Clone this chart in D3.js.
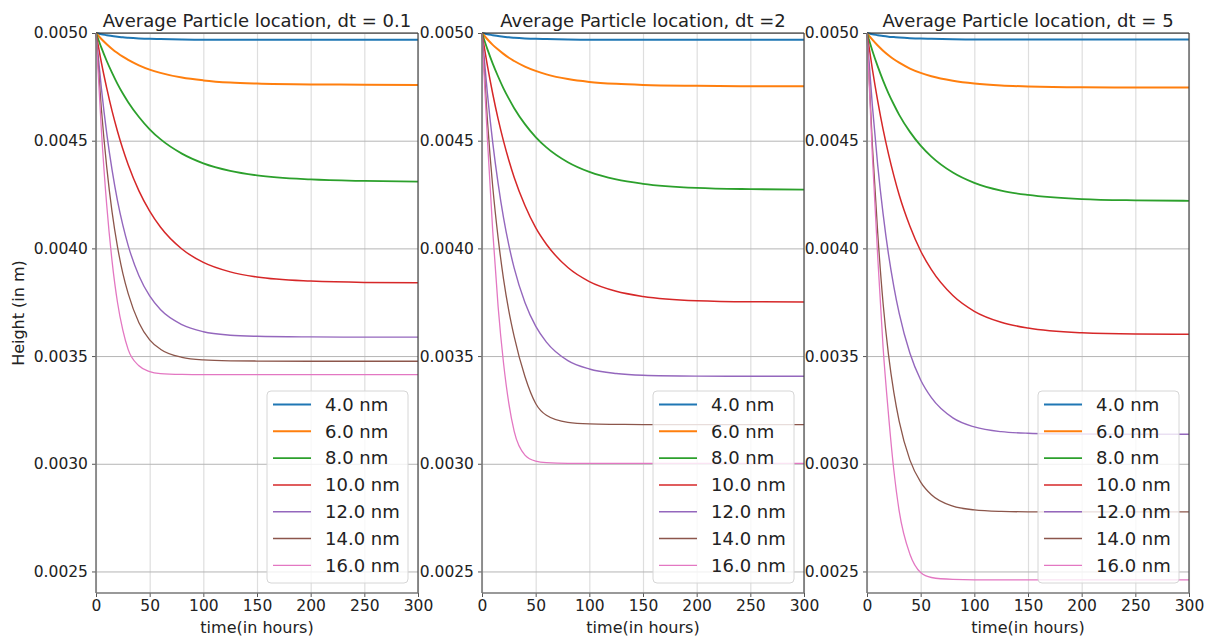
<!DOCTYPE html>
<html lang="en">
<head>
  <meta charset="UTF-8">
  <title>Average Particle location</title>
  <script src="https://d3js.org/d3.v7.min.js"></script>
  <style>
    body {
      margin: 0;
      background: #fff;
      font-family: "DejaVu Sans", sans-serif;
    }
    svg text {
      fill: #222;
    }
  </style>
</head>
<body>
<svg id="chart" width="1217" height="637"></svg>
<script>
  // sample times (hours) shared by every curve
  const times = [0, 5, 10, 15, 20, 25, 30, 40, 50, 60, 80, 100, 125, 150, 200, 250, 300];

  const sizes = ['4.0 nm', '6.0 nm', '8.0 nm', '10.0 nm', '12.0 nm', '14.0 nm', '16.0 nm'];
  const titles = ['Average Particle location, dt = 0.1', 'Average Particle location, dt =2', 'Average Particle location, dt = 5'];
  const xTicks = [0, 50, 100, 150, 200, 250, 300];
  const yTicks = [0.0025, 0.0030, 0.0035, 0.0040, 0.0045, 0.0050];

  // average height (m), one row per particle size
  const dt01 = [
    [0.005, 0.004994, 0.00499, 0.004986, 0.004983, 0.00498, 0.004978, 0.004975, 0.004973, 0.004972, 0.00497, 0.004969, 0.004969, 0.004969, 0.004969, 0.004969, 0.004969],
    [0.005, 0.004972, 0.004948, 0.004926, 0.004907, 0.00489, 0.004875, 0.00485, 0.00483, 0.004815, 0.004793, 0.00478, 0.00477, 0.004765, 0.004761, 0.00476, 0.004759],
    [0.005, 0.004932, 0.00487, 0.004815, 0.004764, 0.004719, 0.004679, 0.00461, 0.004553, 0.004507, 0.00444, 0.004395, 0.00436, 0.004339, 0.00432, 0.004313, 0.00431],
    [0.005, 0.004863, 0.004744, 0.004637, 0.004544, 0.004461, 0.004388, 0.004267, 0.004173, 0.004099, 0.003997, 0.003935, 0.003891, 0.003867, 0.003848, 0.003842, 0.003841],
    [0.005, 0.004744, 0.004534, 0.004363, 0.004222, 0.004108, 0.004013, 0.003873, 0.003779, 0.003716, 0.003646, 0.003613, 0.003597, 0.003592, 0.003589, 0.003588, 0.003588],
    [0.005, 0.004648, 0.004377, 0.004168, 0.004008, 0.003884, 0.00379, 0.003655, 0.003575, 0.003532, 0.003494, 0.003482, 0.003478, 0.003477, 0.003476, 0.003476, 0.003476],
    [0.005, 0.00455, 0.0042, 0.00394, 0.00375, 0.00362, 0.00353, 0.003455, 0.003428, 0.003419, 0.003415, 0.003414, 0.003414, 0.003414, 0.003414, 0.003414, 0.003414]
  ];

  const dt2 = [
    [0.005, 0.004994, 0.00499, 0.004986, 0.004983, 0.00498, 0.004978, 0.004975, 0.004973, 0.004972, 0.00497, 0.004969, 0.004969, 0.004969, 0.004969, 0.004969, 0.004969],
    [0.005, 0.004971, 0.004945, 0.004923, 0.004903, 0.004885, 0.00487, 0.004844, 0.004824, 0.004808, 0.004786, 0.004773, 0.004764, 0.004759, 0.004755, 0.004753, 0.004753],
    [0.005, 0.004925, 0.004858, 0.004798, 0.004743, 0.004695, 0.004651, 0.004577, 0.004517, 0.004469, 0.0044, 0.004355, 0.00432, 0.0043, 0.004281, 0.004275, 0.004273],
    [0.005, 0.00485, 0.004718, 0.004601, 0.004499, 0.004409, 0.004329, 0.004199, 0.004096, 0.004019, 0.003911, 0.003846, 0.003801, 0.003777, 0.003757, 0.003752, 0.003751],
    [0.005, 0.004721, 0.004491, 0.004302, 0.004144, 0.004015, 0.003908, 0.003749, 0.003639, 0.003565, 0.003479, 0.00344, 0.003419, 0.003411, 0.003407, 0.003406, 0.003406],
    [0.005, 0.004598, 0.004286, 0.00405, 0.00386, 0.00371, 0.00359, 0.003405, 0.00328, 0.003225, 0.003192, 0.003185, 0.003183, 0.003182, 0.003182, 0.003182, 0.003182],
    [0.005, 0.00451, 0.00408, 0.00373, 0.00347, 0.00328, 0.00315, 0.00304, 0.003012, 0.003005, 0.003002, 0.003002, 0.003002, 0.003002, 0.003002, 0.003002, 0.003002]
  ];

  const dt5 = [
    [0.005, 0.004994, 0.00499, 0.004986, 0.004983, 0.004981, 0.004979, 0.004976, 0.004974, 0.004973, 0.004971, 0.00497, 0.00497, 0.00497, 0.00497, 0.00497, 0.00497],
    [0.005, 0.004969, 0.004942, 0.004918, 0.004897, 0.004878, 0.004862, 0.004835, 0.004815, 0.004799, 0.004778, 0.004765, 0.004756, 0.004752, 0.004748, 0.004747, 0.004747],
    [0.005, 0.004918, 0.004845, 0.004779, 0.00472, 0.004668, 0.00462, 0.004541, 0.004477, 0.004426, 0.004352, 0.004304, 0.004268, 0.004248, 0.004229, 0.004223, 0.004221],
    [0.005, 0.004832, 0.004684, 0.004553, 0.004439, 0.004338, 0.004248, 0.004103, 0.003988, 0.003901, 0.003781, 0.003708, 0.003657, 0.00363, 0.003608, 0.003602, 0.003601],
    [0.005, 0.004663, 0.004385, 0.00416, 0.003973, 0.003823, 0.003698, 0.003513, 0.003389, 0.003307, 0.003213, 0.003171, 0.003149, 0.003142, 0.003138, 0.003137, 0.003137],
    [0.005, 0.00448, 0.00407, 0.003744, 0.003508, 0.003331, 0.003197, 0.003017, 0.002915, 0.002856, 0.002803, 0.002786, 0.002779, 0.002777, 0.002777, 0.002777, 0.002777],
    [0.005, 0.00443, 0.00396, 0.00354, 0.00323, 0.00297, 0.00278, 0.00258, 0.002495, 0.002472, 0.002463, 0.002461, 0.002461, 0.002461, 0.002461, 0.002461, 0.002461]
  ];

  const panels = [dt01, dt2, dt5];

  const colors = ['#1f77b4', '#ff7f0e', '#2ca02c', '#d62728', '#9467bd', '#8c564b', '#e377c2'];
  const widths = [2, 2, 1.8, 1.5, 1.4, 1.3, 1.3];

  const svg = d3.select('#chart');
  const lefts = [96, 482, 867];
  const plotW = 322;
  const plotTop = 33;
  const plotBottom = 593;

  panels.forEach(function(series, p) {
    const left = lefts[p];
    const right = left + plotW;

    const x = d3.scaleLinear().domain([0, 300]).range([left, right]);
    const y = d3.scaleLinear().domain([0.0024, 0.005]).range([plotBottom, plotTop]);

    const g = svg.append('g');

    // grid
    g.append('g')
      .attr('transform', 'translate(0,' + plotBottom + ')')
      .call(d3.axisBottom(x).tickValues(xTicks).tickSize(-(plotBottom - plotTop)).tickFormat(''))
      .call(s => s.select('.domain').remove())
      .call(s => s.selectAll('line').attr('stroke', '#dedede').attr('stroke-width', 1.2));

    g.append('g')
      .attr('transform', 'translate(' + left + ',0)')
      .call(d3.axisLeft(y).tickValues(yTicks).tickSize(-plotW).tickFormat(''))
      .call(s => s.select('.domain').remove())
      .call(s => s.selectAll('line').attr('stroke', '#b5b5b5').attr('stroke-width', 1));

    // curves
    const line = d3.line()
      .x((d, i) => x(times[i]))
      .y(d => y(d))
      .curve(d3.curveMonotoneX);

    g.selectAll('.curve')
      .data(series)
      .enter()
      .append('path')
      .attr('class', 'curve')
      .attr('d', d => line(d))
      .attr('fill', 'none')
      .attr('stroke', (d, i) => colors[i])
      .attr('stroke-width', (d, i) => widths[i]);

    // axes
    const xAxis = g.append('g')
      .attr('transform', 'translate(0,' + plotBottom + ')')
      .call(d3.axisBottom(x).tickValues(xTicks).tickSize(4).tickPadding(3));
    const yAxis = g.append('g')
      .attr('transform', 'translate(' + left + ',0)')
      .call(d3.axisLeft(y).tickValues(yTicks).tickSize(4).tickPadding(4).tickFormat(d3.format('.4f')));

    [xAxis, yAxis].forEach(function(ax) {
      ax.select('.domain').remove();
      ax.selectAll('line').attr('stroke', '#555');
      ax.selectAll('text').attr('font-size', '15.5px').attr('font-family', 'DejaVu Sans').attr('fill', '#222');
    });

    // spines
    g.append('line').attr('x1', left).attr('x2', right).attr('y1', plotTop).attr('y2', plotTop)
      .attr('stroke', '#222').attr('stroke-width', 1.2);
    g.append('line').attr('x1', right).attr('x2', right).attr('y1', plotTop).attr('y2', plotBottom)
      .attr('stroke', '#444').attr('stroke-width', 1.2);
    g.append('line').attr('x1', left).attr('x2', left).attr('y1', plotTop).attr('y2', plotBottom)
      .attr('stroke', '#777').attr('stroke-width', 1.6);
    g.append('line').attr('x1', left).attr('x2', right).attr('y1', plotBottom).attr('y2', plotBottom)
      .attr('stroke', '#777').attr('stroke-width', 1.6);

    // title and x label
    g.append('text')
      .attr('x', (left + right) / 2)
      .attr('y', 27)
      .attr('text-anchor', 'middle')
      .attr('font-size', '18px')
      .text(titles[p]);

    g.append('text')
      .attr('x', (left + right) / 2)
      .attr('y', 633)
      .attr('text-anchor', 'middle')
      .attr('font-size', '16px')
      .text('time(in hours)');

    // legend
    const lgW = 141;
    const lgX = right - 10 - lgW;
    const lgY = 391;
    const legend = g.append('g');
    legend.append('rect')
      .attr('x', lgX)
      .attr('y', lgY)
      .attr('width', lgW)
      .attr('height', 192)
      .attr('rx', 4)
      .attr('fill', 'white')
      .attr('fill-opacity', 0.8)
      .attr('stroke', '#d6d6d6');

    sizes.forEach(function(name, i) {
      const rowY = 404.5 + i * 26.8;
      legend.append('line')
        .attr('x1', lgX + 6).attr('x2', lgX + 44)
        .attr('y1', rowY).attr('y2', rowY)
        .attr('stroke', colors[i])
        .attr('stroke-width', widths[i]);
      legend.append('text')
        .attr('x', lgX + 58)
        .attr('y', rowY)
        .attr('dy', '0.35em')
        .attr('font-size', '18px')
        .text(name);
    });
  });

  // y label, first panel only
  svg.append('text')
    .attr('transform', 'translate(24,' + (plotTop + plotBottom) / 2 + ') rotate(-90)')
    .attr('text-anchor', 'middle')
    .attr('font-size', '16px')
    .text('Height (in m)');
</script>
</body>
</html>
